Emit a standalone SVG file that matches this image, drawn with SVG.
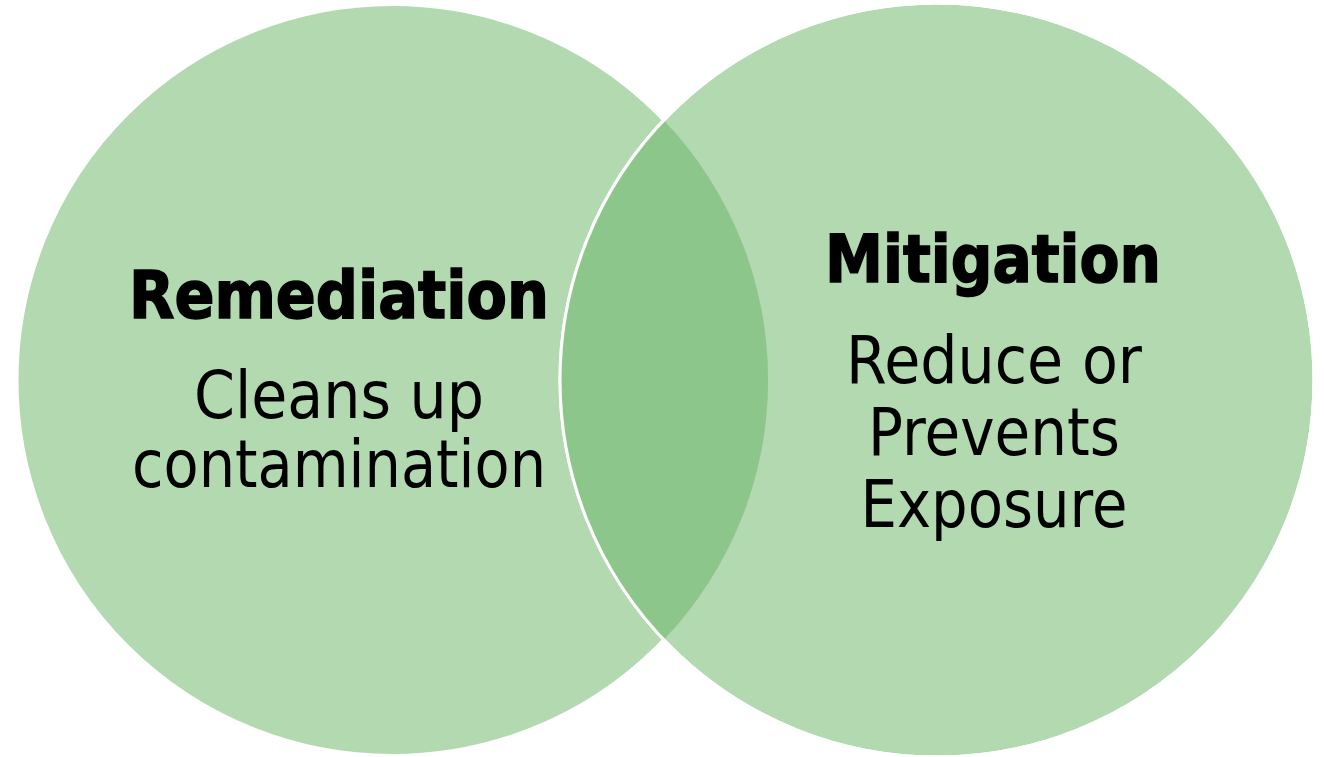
<svg xmlns="http://www.w3.org/2000/svg" width="1324" height="757" viewBox="0 0 1324 757">
<style>
.c{fill:#B3D9B1;stroke:#FFFFFF;stroke-width:3}
.lens{fill:#8DC68A}
.edge{fill:none;stroke:#FFFFFF;stroke-width:3}
text{font-family:"DejaVu Sans","Liberation Sans",sans-serif;fill:#000000;text-anchor:middle}
.t{font-weight:bold;font-size:66px;stroke:#000000;stroke-width:1.6}
.b{font-size:65px}
</style>
<rect width="1324" height="757" fill="#FFFFFF"/>
<g id="remediation">
<circle class="c" cx="392.5" cy="380" r="375.5"/>
</g>
<g id="mitigation">
<circle class="c" cx="937" cy="380" r="377"/>
</g>
<g id="overlap">
<path class="lens" d="M664 120.5 A375.5 375.5 0 0 1 664 639.5 A377 377 0 0 1 664 120.5 Z"/>
<circle class="edge" cx="937" cy="380" r="377"/>
</g>
<g id="remediation-text">
<text class="t" x="339" y="318" textLength="420" lengthAdjust="spacingAndGlyphs">Remediation</text>
<text class="b" x="339" y="418" textLength="290" lengthAdjust="spacingAndGlyphs">Cleans up</text>
<text class="b" x="339" y="487" textLength="414" lengthAdjust="spacingAndGlyphs">contamination</text>
</g>
<g id="mitigation-text">
<text class="t" x="993" y="282" textLength="336" lengthAdjust="spacingAndGlyphs">Mitigation</text>
<text class="b" x="994" y="383" textLength="296" lengthAdjust="spacingAndGlyphs">Reduce or</text>
<text class="b" x="994" y="455" textLength="252" lengthAdjust="spacingAndGlyphs">Prevents</text>
<text class="b" x="994" y="527" textLength="267" lengthAdjust="spacingAndGlyphs">Exposure</text>
</g>
<g id="connectors"/>
</svg>
